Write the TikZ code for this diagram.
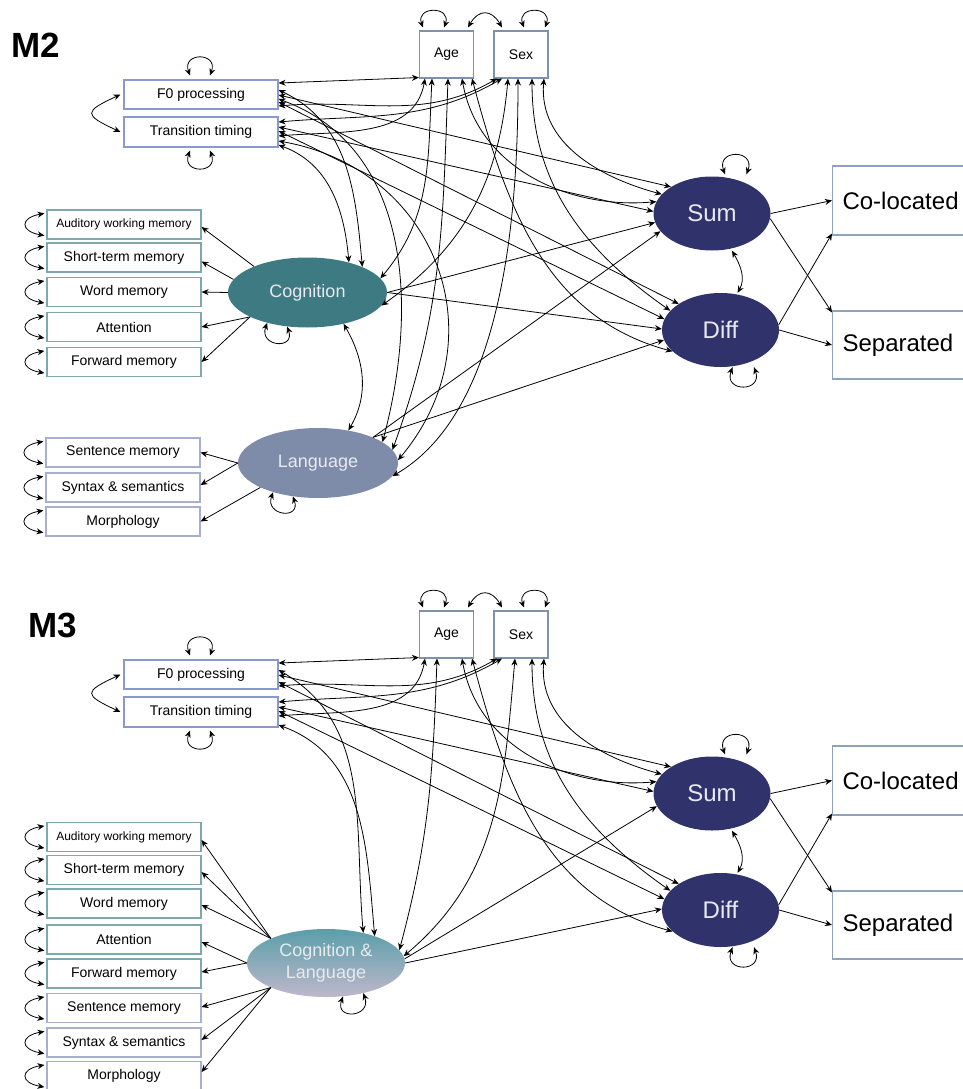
\documentclass[tikz,border=0pt]{standalone}
\usepackage{fontspec}
\setmainfont{Liberation Sans}
\usetikzlibrary{arrows.meta,shapes.geometric}

\definecolor{predline}{HTML}{8A98CC}
\definecolor{demoline}{HTML}{7E92AE}
\definecolor{cogline}{HTML}{7FA8AE}
\definecolor{langline}{HTML}{A6B0CC}
\definecolor{condline}{HTML}{8EA2BE}
\definecolor{cogfill}{HTML}{3E7A82}
\definecolor{langfill}{HTML}{7E8BA9}
\definecolor{navyfill}{HTML}{30336B}
\definecolor{cltop}{HTML}{5A9EA9}
\definecolor{clbot}{HTML}{BEB8CA}
\definecolor{lattext}{HTML}{E8EAF0}

\newcommand{\fsz}[1]{\fontsize{#1}{#1}\selectfont}

\tikzset{
  predbox/.style={draw=predline, line width=1.1pt, fill=white, minimum width=154pt, minimum height=29pt, inner sep=0pt, font=\fsz{14}},
  indbox/.style={draw=#1, line width=1.1pt, fill=white, minimum width=154pt, minimum height=29pt, inner sep=0pt, font=\fsz{14}},
  demobox/.style={draw=demoline, line width=1.1pt, fill=white, minimum width=54pt, minimum height=47pt, inner sep=0pt, font=\fsz{14}},
  condbox/.style={draw=condline, line width=1.1pt, fill=white, anchor=west, text width=130pt, align=left, inner xsep=10pt, minimum height=69pt, font=\fsz{24}},
  latvar/.style={ellipse, fill=#1, text=lattext, inner sep=0pt, align=center, font=\fsz{18}},
  outvar/.style={ellipse, fill=navyfill, text=lattext, inner sep=0pt, minimum width=117pt, minimum height=74pt, font=\fsz{24}},
  panellabel/.style={font=\fsz{35}\bfseries, inner sep=0pt},
  covar/.style={{Stealth[length=7pt,width=6pt]}-{Stealth[length=7pt,width=6pt]}, line width=0.8pt},
  regr/.style={-{Stealth[length=7pt,width=6pt]}, line width=0.8pt},
  toploop/.style={covar, out=110, in=70, looseness=3.2},
  botloop/.style={covar, out=-110, in=-70, looseness=3.2},
  sideloop/.style={covar, out=190, in=170, looseness=2.9}
}

% predictors, covariates, outcomes: the same in both panels
\newcommand{\sempanel}{%
  \node[predbox] (f0) at (201,94.5) {F0 processing};
  \node[predbox, minimum height=30pt] (tt) at (201,132) {Transition timing};
  \node[demobox] (age) at (446.5,54.5) {Age};
  \node[demobox] (sex) at (521,54.5) {Sex};
  \node[outvar] (sum) at (712,213.5) {Sum};
  \node[outvar] (diff) at (720.5,330) {Diff};
  \node[condbox] (colo) at (832,200.5) {Co-located};
  \node[condbox, minimum height=68pt] (sepa) at (832,345) {Separated};
  % variances
  \draw[toploop] ([xshift=-11pt,yshift=4pt]f0.north) to ([xshift=9pt,yshift=4pt]f0.north);
  \draw[botloop] ([xshift=-11pt,yshift=-3pt]tt.south) to ([xshift=9pt,yshift=-3pt]tt.south);
  \draw[toploop, looseness=2.8] ([xshift=-23.5pt,yshift=3pt]age.north) to ([xshift=-2.5pt,yshift=3pt]age.north);
  \draw[toploop, looseness=2.8] ([xshift=3pt,yshift=3pt]sex.north) to ([xshift=24pt,yshift=3pt]sex.north);
  \draw[toploop] ([xshift=13pt,yshift=2pt]sum.north) to ([xshift=34.5pt,yshift=2pt]sum.north);
  \draw[botloop] ([xshift=12pt]diff.south) to ([xshift=33.5pt]diff.south);
  % covariances
  \draw[covar] ([xshift=-3pt]f0.west) to[out=205, in=155, looseness=2.8] ([xshift=-3pt]tt.west);
  \draw[covar] ([xshift=21.5pt,yshift=3pt]age.north) to[out=60, in=120, looseness=1.6] ([xshift=-19pt,yshift=3pt]sex.north);
  \draw[covar] ([yshift=11.5pt]f0.east) -- ([yshift=1pt]age.south west);
  \draw[covar] ([yshift=-11.5pt]f0.east) to[out=5, in=-150] ([xshift=-24pt]sex.south);
  \draw[covar] ([yshift=10pt]tt.east) to[out=5, in=-150] ([xshift=-19pt]sex.south);
  \draw[covar] ([yshift=-4pt]tt.east) to[out=5, in=-100] ([xshift=-21.5pt]age.south);
  \draw[covar] ([yshift=-0.5pt]f0.east) -- (sum.147);
  \draw[covar] ([yshift=-7.5pt]f0.east) -- (diff.148);
  \draw[covar] ([yshift=5pt]tt.east) -- (sum.178);
  \draw[covar] ([yshift=1pt]tt.east) -- (diff.169);
  \draw[covar] ([xshift=15.5pt]age.south) to[out=-80, in=185] (sum.168);
  \draw[covar] ([xshift=25.5pt]age.south) to[out=-75, in=165] (diff.204);
  \draw[covar] ([xshift=23pt]sex.south) to[out=-95, in=165] (sum.159);
  \draw[covar] ([xshift=11pt]sex.south) to[out=-90, in=145] (diff.159);
  \draw[covar] ([xshift=20pt]sum.south) to[out=-60, in=60] ([xshift=17pt]diff.north);
  % measurement of the outcomes
  \draw[regr] (sum.east) -- (colo.west);
  \draw[regr] (sum.-5) -- ([yshift=-2pt]sepa.north west);
  \draw[regr] (diff.5) -- ([yshift=2pt]colo.south west);
  \draw[regr] (diff.east) -- (sepa.west);
}

\begin{document}
\begin{tikzpicture}[x=1pt, y=-1pt]
  \useasboundingbox (0,0) rectangle (963,1089);
  \clip (0,0) rectangle (963,1089);
  \fill[white] (0,0) rectangle (963,1089);

  % M2: two factors
  \begin{scope}[name prefix=a-]
    \sempanel
    \node[panellabel] (label) at (36,45) {M2};
    \node[latvar=cogfill, minimum width=159pt, minimum height=70pt] (cog) at (307.5,292.5) {Cognition};
    \node[latvar=langfill, minimum width=160pt, minimum height=70pt] (lang) at (318,463) {Language};

    \node[indbox=cogline, font=\fsz{12}] (aud) at (124,224.5) {Auditory working memory};
    \node[indbox=cogline] (st) at (124,257.5) {Short-term memory};
    \node[indbox=cogline] (word) at (124,292) {Word memory};
    \node[indbox=cogline] (att) at (124,327) {Attention};
    \node[indbox=cogline] (fwd) at (124,362) {Forward memory};
    \node[indbox=langline] (sent) at (123,452.5) {Sentence memory};
    \node[indbox=langline] (syn) at (123,487.5) {Syntax \& semantics};
    \node[indbox=langline] (morph) at (123,521.5) {Morphology};

    \foreach \b in {aud,st,word,att,fwd,sent,syn,morph}
      \draw[sideloop] ([xshift=-2pt,yshift=-4pt]\b.north west) to ([xshift=-2pt,yshift=4pt]\b.south west);
    \draw[botloop] (cog.-143) to (cog.-121);
    \draw[botloop] (lang.-147) to (lang.-127);
    \draw[covar] (cog.-41) to[out=-60, in=60] (lang.47);

    \draw[regr] (cog.154) -- ([yshift=-2.5pt]aud.east);
    \draw[regr] (cog.170) -- ([yshift=-4pt]st.east);
    \draw[regr] (cog.west) -- (word.east);
    \draw[regr] (cog.203) -- (att.east);
    \draw[regr] (cog.203) -- (fwd.east);
    \draw[regr] (lang.west) -- (sent.east);
    \draw[regr] (lang.west) -- ([yshift=2.5pt]syn.east);
    \draw[regr] (lang.203) -- (morph.east);

    \draw[covar] ([yshift=4.5pt]f0.east) to[out=-25, in=95] (cog.25);
    \draw[covar] ([yshift=-13pt]tt.east) to[out=-20, in=95] (cog.36);
    \draw[covar] ([yshift=-4.5pt]f0.east) to[out=-20, in=75] (lang.18);
    \draw[covar] ([yshift=-9pt]tt.east) to[out=-10, in=50, looseness=1.2] (lang.2);
    \draw[covar] ([xshift=-14.5pt]age.south) to[out=-93, in=50] (cog.11);
    \draw[covar] ([xshift=1.5pt]age.south) to[out=-92, in=70] (lang.10);
    \draw[covar] ([xshift=-13pt]sex.south) to[out=-95, in=35] (cog.-10);
    \draw[covar] ([xshift=-3pt]sex.south) to[out=-90, in=30, looseness=0.8] (lang.-10);

    \draw[regr] (cog.east) -- (sum.189);
    \draw[regr] (cog.east) -- (diff.179);
    \draw[regr] (lang.25) -- (sum.199);
    \draw[regr] (lang.25) -- (diff.190);
  \end{scope}

  % M3: one factor
  \begin{scope}[name prefix=b-, shift={(0,580)}]
    \sempanel
    \node[panellabel] (label) at (53,45) {M3};
    \node[latvar=white, top color=cltop, bottom color=clbot, minimum width=158pt, minimum height=68pt, font=\fontsize{18}{22}\selectfont] (cl) at (326,383) {Cognition \&\\Language};

    \node[indbox=cogline, font=\fsz{12}] (aud) at (124,257) {Auditory working memory};
    \node[indbox=cogline] (st) at (124,290) {Short-term memory};
    \node[indbox=cogline] (word) at (124,323.5) {Word memory};
    \node[indbox=cogline] (att) at (124,359.5) {Attention};
    \node[indbox=cogline] (fwd) at (124,393.5) {Forward memory};
    \node[indbox=langline] (sent) at (124,428) {Sentence memory};
    \node[indbox=langline] (syn) at (124,462.5) {Syntax \& semantics};
    \node[indbox=langline] (morph) at (124,496) {Morphology};

    \foreach \b in {aud,st,word,att,fwd,sent,syn,morph}
      \draw[sideloop] ([xshift=-2pt,yshift=-4pt]\b.north west) to ([xshift=-2pt,yshift=4pt]\b.south west);
    \draw[botloop] (cl.-63) to (cl.-39);

    \draw[regr] (cl.156) -- ([yshift=-3pt]aud.east);
    \draw[regr] (cl.156) -- ([yshift=-2pt]st.east);
    \draw[regr] (cl.156) -- ([yshift=-1.5pt]word.east);
    \draw[regr] (cl.west) -- ([yshift=-2.5pt]att.east);
    \draw[regr] (cl.west) -- ([yshift=1.5pt]fwd.east);
    \draw[regr] (cl.204) -- ([yshift=1pt]sent.east);
    \draw[regr] (cl.204) -- ([yshift=2.5pt]syn.east);
    \draw[regr] (cl.204) -- ([yshift=4pt]morph.east);

    \draw[covar] ([yshift=4.5pt]f0.east) to[out=-30, in=95] (cl.39);
    \draw[covar] ([yshift=-13pt]tt.east) to[out=-20, in=95] (cl.29);
    \draw[covar] ([xshift=-9.5pt]age.south) to[out=-92, in=75] (cl.10);
    \draw[covar] ([xshift=-6pt]sex.south) to[out=-95, in=40] (cl.5);

    \draw[regr] (cl.3) -- (sum.193);
    \draw[regr] (cl.east) -- (diff.179);
  \end{scope}
\end{tikzpicture}
\end{document}
